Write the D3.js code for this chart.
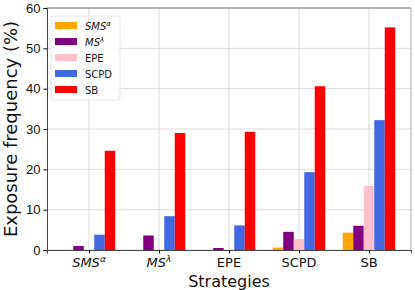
<!DOCTYPE html>
<html>
<head>
<meta charset="utf-8">
<script src="https://cdn.jsdelivr.net/npm/d3@7"></script>
<style>
  body { margin: 0; background: #fff; }
  svg { font-family: "DejaVu Sans", sans-serif; }
</style>
</head>
<body>
<div class="container"></div>
<script>
const categories = ["SMS", "MS", "EPE", "SCPD", "SB"];
const catSup = ["α", "λ", "", "", ""];
const seriesNames = ["SMS", "MS", "EPE", "SCPD", "SB"];
const seriesColors = ["orange", "purple", "pink", "royalblue", "red"];
const smsAlpha = [0, 0, 0, 0.6, 4.3];
const msLambda = [1.0, 3.6, 0.5, 4.5, 6.0];
const epe = [0, 0, 0, 2.7, 15.9];
const scpd = [3.8, 8.4, 6.1, 19.3, 32.2];
const sb = [24.6, 29.0, 29.3, 40.6, 55.2];
const yTicks = [0, 10, 20, 30, 40, 50, 60];

const series = [smsAlpha, msLambda, epe, scpd, sb];

const w = 415, h = 290,
    padding = { top: 8, bottom: 40, left: 47, right: 4 };

const xScale = d3.scaleLinear()
    .domain([-0.6, 4.6])
    .range([padding.left, w - padding.right]);

const yScale = d3.scaleLinear()
    .domain([0, 60])
    .range([h - padding.bottom, padding.top]);

const barW = 0.15;

let svg = d3.select("div.container")
    .append("svg")
    .attr("width", w)
    .attr("height", h);

// grid
svg.append("g")
    .selectAll("line.hgrid")
    .data(yTicks)
    .enter()
    .append("line")
    .attr("x1", padding.left).attr("x2", w - padding.right)
    .attr("y1", d => yScale(d)).attr("y2", d => yScale(d))
    .attr("stroke", "#d0d0d0").attr("stroke-width", 0.8);

svg.append("g")
    .selectAll("line.vgrid")
    .data(categories)
    .enter()
    .append("line")
    .attr("x1", (d, i) => xScale(i)).attr("x2", (d, i) => xScale(i))
    .attr("y1", padding.top).attr("y2", h - padding.bottom)
    .attr("stroke", "#d0d0d0").attr("stroke-width", 0.8);

// bars
series.forEach((vals, s) => {
    svg.append("g")
        .selectAll("rect")
        .data(vals)
        .enter()
        .append("rect")
        .attr("x", (d, i) => xScale(i + (s - 2) * barW - barW / 2))
        .attr("width", xScale(barW) - xScale(0))
        .attr("y", d => yScale(d))
        .attr("height", d => yScale(0) - yScale(d))
        .attr("fill", seriesColors[s]);
});

// spines
const x0 = padding.left, x1 = w - padding.right, y0 = h - padding.bottom, y1 = padding.top;
svg.append("line").attr("x1", x0).attr("x2", x1).attr("y1", y1).attr("y2", y1).attr("stroke", "#777");
svg.append("line").attr("x1", x1).attr("x2", x1).attr("y1", y1).attr("y2", y0).attr("stroke", "#aaa");

const yAxis = d3.axisLeft(yScale).tickValues(yTicks).tickSize(3.5).tickPadding(3);
svg.append("g")
    .attr("transform", "translate(" + padding.left + ",0)")
    .call(yAxis)
    .call(g => g.selectAll("text").attr("font-size", 13).attr("fill", "#111"))
    .call(g => g.select(".domain").attr("stroke", "#444"));

const xAxis = d3.axisBottom(xScale).tickValues([0, 1, 2, 3, 4]).tickSize(3.5).tickPadding(3).tickFormat("");
let gx = svg.append("g")
    .attr("transform", "translate(0," + y0 + ")")
    .call(xAxis)
    .call(g => g.select(".domain").attr("stroke", "#444"));

categories.forEach((c, i) => {
    const t = svg.append("text")
        .attr("x", xScale(i))
        .attr("y", y0 + 17)
        .attr("text-anchor", "middle")
        .attr("font-size", 13)
        .attr("fill", "#111");
    if (catSup[i]) {
        t.append("tspan").attr("font-style", "italic").text(c);
        t.append("tspan").attr("font-style", "italic").attr("font-size", 9).attr("dy", -5).text(catSup[i]);
    } else {
        t.text(c);
    }
});

svg.append("text")
    .text("Strategies")
    .attr("x", xScale(2))
    .attr("y", h - 3)
    .attr("text-anchor", "middle")
    .attr("font-size", 16)
    .attr("fill", "#111");

svg.append("text")
    .text("Exposure frequency (%)")
    .attr("transform", "translate(17," + ((y0 + y1) / 2) + ") rotate(-90)")
    .attr("text-anchor", "middle")
    .attr("font-size", 18)
    .attr("fill", "#111");

// legend
const leg = svg.append("g").attr("transform", "translate(51,16)");
leg.append("rect")
    .attr("width", 69).attr("height", 84).attr("rx", 2)
    .attr("fill", "#fff").attr("fill-opacity", 0.85)
    .attr("stroke", "#e6e6e6");

seriesNames.forEach((n, s) => {
    const row = leg.append("g").attr("transform", "translate(0," + (6 + s * 16) + ")");
    row.append("rect").attr("x", 4).attr("y", 0).attr("width", 22).attr("height", 7).attr("fill", seriesColors[s]);
    const t = row.append("text").attr("x", 34).attr("y", 7.5).attr("font-size", 10).attr("fill", "#111");
    if (catSup[s]) {
        t.append("tspan").attr("font-style", "italic").text(n);
        t.append("tspan").attr("font-style", "italic").attr("font-size", 7).attr("dy", -4).text(catSup[s]);
    } else {
        t.text(n);
    }
});
</script>
</body>
</html>
